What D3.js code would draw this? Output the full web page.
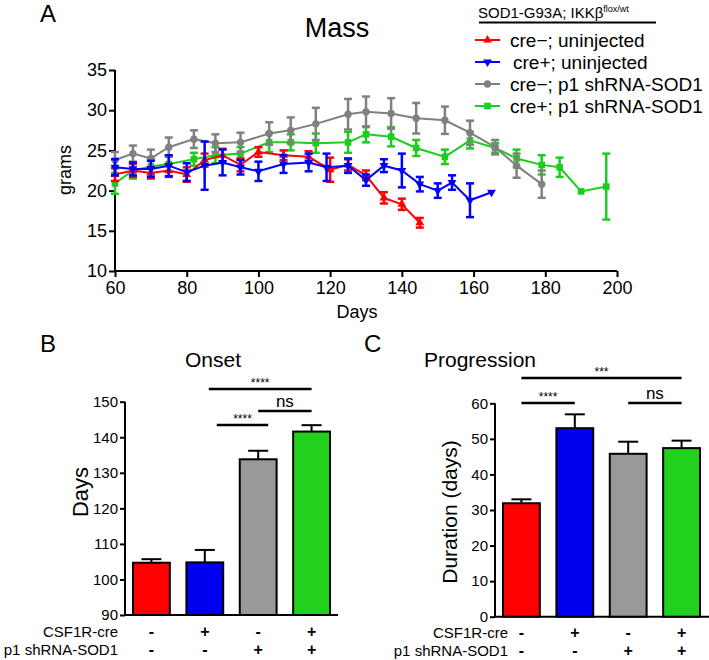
<!DOCTYPE html>
<html>
<head>
<meta charset="utf-8">
<script src="https://cdn.jsdelivr.net/npm/d3@7"></script>
<style>
  body { margin: 0; background: #fff; }
  svg { font-family: Arial, "Liberation Sans", sans-serif; }
</style>
</head>
<body>
<div id="chart"></div>
<script>
// ---- Panel A: body mass over time (mean +/- SEM)
const redDays  = [60,65,70,75,80,85,90,95,100,107,114,120,125,130,135,140,145];
const redMass  = [22.0,22.5,22.2,22.5,22.0,23.8,24.4,23.2,24.8,24.4,24.2,22.6,23.2,21.9,19.1,18.3,16.0];
const redErr   = [0.8,0.8,0.7,0.8,0.9,0.8,0.8,0.8,0.6,0.6,0.7,1.5,0.7,0.6,0.7,0.7,0.6];

const blueDays = [60,65,70,75,80,85,90,95,100,107,114,119,125,130,135,140,145,150,154,159,165];
const blueMass = [22.9,22.7,22.7,23.1,22.3,23.1,23.5,22.9,22.4,23.3,23.5,22.9,23.1,21.3,23.1,22.5,20.8,20.0,21.0,18.8,19.8];
const blueErr  = [1.0,0.8,1.0,1.3,1.1,3.0,1.6,0.9,1.2,1.1,1.1,1.7,0.9,0.7,0.8,2.1,0.9,0.9,0.9,2.1,0];

const grayDays = [60,65,70,75,82,88,95,103,109,116,125,130,137,144,152,159,166,172,179];
const grayMass = [23.8,24.6,24.0,25.4,26.4,25.9,26.0,27.1,27.5,28.3,29.5,29.8,29.6,29.0,28.75,27.2,25.4,23.1,20.8];
const grayErr  = [1.0,1.0,1.1,1.2,1.1,1.1,1.2,1.4,1.6,2.0,1.9,1.9,1.9,1.9,1.7,1.5,0.9,1.5,1.7];

const greenDays = [60,65,70,75,82,88,95,103,109,116,125,130,137,144,152,159,166,172,179,184,190,197];
const greenMass = [20.9,22.5,23.0,23.3,23.9,24.4,24.6,26.0,26.0,25.9,26.0,27.0,26.7,25.3,24.2,26.25,25.3,24.0,23.2,22.9,19.9,20.5];
const greenErr  = [1.3,1.0,1.0,1.0,0.8,1.0,0.8,1.2,1.0,1.2,1.3,1.0,1.2,1.0,0.9,1.0,0.6,1.1,1.2,1.2,0,4.1];

const seriesNames = ["cre\u2212; uninjected", "cre+; uninjected", "cre\u2212; p1 shRNA-SOD1", "cre+; p1 shRNA-SOD1"];
const dayTicks = [60, 80, 100, 120, 140, 160, 180, 200];
const massTicks = [10, 15, 20, 25, 30, 35];

// ---- Panels B and C: bars
const groupIdx = [0, 1, 2, 3];
const onsetMean = [104.7, 104.8, 133.8, 141.6];
const onsetSem  = [1.0, 3.5, 2.4, 1.8];
const onsetTicks = [90, 100, 110, 120, 130, 140, 150];
const durationMean = [31.9, 53.0, 45.8, 47.4];
const durationSem  = [1.1, 3.9, 3.4, 2.1];
const durationTicks = [0, 10, 20, 30, 40, 50, 60];
const creRow = ["-", "+", "-", "+"];
const shRow  = ["-", "-", "+", "+"];

const lineColors = ["#ff0000", "#0000ff", "#808080", "#1ecc1e"];
const barColors  = ["#ff0000", "#0000f0", "#999999", "#22d01e"];
const FONT = "Arial, 'Liberation Sans', sans-serif";

const svg = d3.select("#chart").append("svg")
    .attr("width", 709)
    .attr("height", 660);

// ================= Panel A =================
const x = d3.scaleLinear().domain([60, 200]).range([115, 617]);
const y = d3.scaleLinear().domain([10, 35]).range([271, 70]);

svg.append("text").attr("x", 40).attr("y", 22).attr("font-size", 24).text("A");
svg.append("text").attr("x", 337).attr("y", 37).attr("font-size", 27)
    .attr("text-anchor", "middle").text("Mass");

const xAxisA = svg.append("g")
    .attr("transform", "translate(0,271)")
    .call(d3.axisBottom(x).tickValues(dayTicks).tickSizeOuter(0).tickSize(6).tickPadding(4));
const yAxisA = svg.append("g")
    .attr("transform", "translate(115,0)")
    .call(d3.axisLeft(y).tickValues(massTicks).tickSizeOuter(0).tickSize(6).tickPadding(2));
[xAxisA, yAxisA].forEach(g => {
    g.selectAll("path, line").attr("stroke", "#000").attr("stroke-width", 2);
    g.selectAll("text").attr("font-size", 18).attr("fill", "#000").attr("font-family", FONT);
});
xAxisA.select(".domain").attr("d", "M" + x.range()[0] + ",0H" + x.range()[1]);
yAxisA.select(".domain").attr("d", "M0," + y.range()[0] + "V" + y.range()[1]);

svg.append("text").attr("x", 357).attr("y", 318).attr("font-size", 18)
    .attr("text-anchor", "middle").text("Days");
svg.append("text").attr("font-size", 18).attr("text-anchor", "middle")
    .attr("transform", "translate(71,170) rotate(-90)").text("grams");

function zipSeries(days, mass, err) {
    return days.map((d, i) => ({ day: d, mass: mass[i], err: err[i] }));
}
const series = [
    { data: zipSeries(greenDays, greenMass, greenErr), color: lineColors[3], shape: d3.symbolSquare, size: 44 },
    { data: zipSeries(grayDays, grayMass, grayErr), color: lineColors[2], shape: d3.symbolCircle, size: 42 },
    { data: zipSeries(redDays, redMass, redErr), color: lineColors[0], shape: d3.symbolTriangle, size: 34, rot: 0 },
    { data: zipSeries(blueDays, blueMass, blueErr), color: lineColors[1], shape: d3.symbolTriangle, size: 34, rot: 180 }
];

const line = d3.line().x(d => x(d.day)).y(d => y(d.mass));

series.forEach(s => {
    const g = svg.append("g");
    g.append("path").datum(s.data).attr("d", line)
        .attr("fill", "none").attr("stroke", s.color).attr("stroke-width", 2);
    const eb = g.selectAll(".eb").data(s.data.filter(d => d.err > 0)).enter().append("g");
    eb.append("line")
        .attr("x1", d => x(d.day)).attr("x2", d => x(d.day))
        .attr("y1", d => y(d.mass - d.err)).attr("y2", d => y(d.mass + d.err))
        .attr("stroke", s.color).attr("stroke-width", 2.5);
    [-1, 1].forEach(sg => {
        eb.append("line")
            .attr("x1", d => x(d.day) - 4).attr("x2", d => x(d.day) + 4)
            .attr("y1", d => y(d.mass + sg * d.err)).attr("y2", d => y(d.mass + sg * d.err))
            .attr("stroke", s.color).attr("stroke-width", 2.5);
    });
    g.selectAll(".pt").data(s.data).enter().append("path")
        .attr("d", d3.symbol().type(s.shape).size(s.size))
        .attr("transform", d => "translate(" + x(d.day) + "," + y(d.mass) + ") rotate(" + (s.rot || 0) + ")")
        .attr("fill", s.color);
});

// legend
const header = svg.append("text").attr("x", 478).attr("y", 18).attr("font-size", 15);
header.append("tspan").text("SOD1-G93A; IKK\u03b2");
header.append("tspan").attr("font-size", 9).attr("dy", -6).text("flox/wt");
svg.append("line").attr("x1", 479).attr("x2", 656).attr("y1", 22.5).attr("y2", 22.5)
    .attr("stroke", "#000").attr("stroke-width", 2);

const legendShapes = [
    { shape: d3.symbolTriangle, size: 34, rot: 0 },
    { shape: d3.symbolTriangle, size: 34, rot: 180 },
    { shape: d3.symbolCircle, size: 42, rot: 0 },
    { shape: d3.symbolSquare, size: 44, rot: 0 }
];
const legendY = d3.scalePoint().domain(groupIdx).range([40, 106]);
const leg = svg.selectAll(".leg").data(groupIdx).enter().append("g")
    .attr("transform", i => "translate(0," + legendY(i) + ")");
leg.append("line").attr("x1", 475).attr("x2", 500).attr("y1", 0).attr("y2", 0)
    .attr("stroke", i => lineColors[i]).attr("stroke-width", 2);
leg.append("path")
    .attr("d", i => d3.symbol().type(legendShapes[i].shape).size(legendShapes[i].size)())
    .attr("transform", i => "translate(487.5,0) rotate(" + legendShapes[i].rot + ")")
    .attr("fill", i => lineColors[i]);
leg.append("text").attr("x", i => i === 1 ? 513 : 510).attr("y", 7).attr("font-size", 19)
    .text(i => seriesNames[i]);

// ================= Panels B & C =================
function barPanel(opts) {
    const xb = d3.scaleBand().domain(groupIdx).range(opts.xRange).paddingInner(0.31).paddingOuter(0.15);
    const yb = d3.scaleLinear().domain(opts.domain).range(opts.yRange);
    const cx = i => xb(i) + xb.bandwidth() / 2;

    svg.append("text").attr("x", opts.letterX).attr("y", 352).attr("font-size", 24).text(opts.letter);
    svg.append("text").attr("x", opts.titleX).attr("y", 367).attr("font-size", 21)
        .attr("text-anchor", "middle").text(opts.title);

    const ya = svg.append("g").attr("transform", "translate(" + opts.xRange[0] + ",0)")
        .call(d3.axisLeft(yb).tickValues(opts.ticks).tickSizeOuter(0).tickSize(5).tickPadding(2));
    ya.selectAll("path, line").attr("stroke", "#000").attr("stroke-width", 2);
    ya.selectAll("text").attr("font-size", 15).attr("fill", "#000").attr("font-family", FONT);
    ya.select(".domain").attr("d", "M0," + opts.yRange[0] + "V" + opts.yRange[1]);

    const xa = svg.append("g").attr("transform", "translate(0," + opts.yRange[0] + ")")
        .call(d3.axisBottom(xb).tickSize(0).tickSizeOuter(0).tickFormat(""));
    xa.select(".domain").attr("stroke", "#000").attr("stroke-width", 2)
        .attr("d", "M" + opts.xRange[0] + ",0H" + opts.xEnd);

    svg.append("text").attr("font-size", opts.yLabelSize).attr("text-anchor", "middle")
        .attr("transform", "translate(" + opts.yLabelX + "," + opts.yLabelY + ") rotate(-90)")
        .text(opts.yLabel);

    // error bars (upper only)
    const eb = svg.selectAll(".eb" + opts.letter).data(groupIdx).enter().append("g");
    eb.append("line")
        .attr("x1", cx).attr("x2", cx)
        .attr("y1", i => yb(opts.mean[i])).attr("y2", i => yb(opts.mean[i] + opts.sem[i]))
        .attr("stroke", "#000").attr("stroke-width", 2);
    eb.append("line")
        .attr("x1", i => cx(i) - 10).attr("x2", i => cx(i) + 10)
        .attr("y1", i => yb(opts.mean[i] + opts.sem[i])).attr("y2", i => yb(opts.mean[i] + opts.sem[i]))
        .attr("stroke", "#000").attr("stroke-width", 2);

    svg.selectAll(".bar" + opts.letter).data(groupIdx).enter().append("rect")
        .attr("x", i => xb(i)).attr("width", xb.bandwidth())
        .attr("y", i => yb(opts.mean[i])).attr("height", i => yb(opts.domain[0]) - yb(opts.mean[i]))
        .attr("fill", i => barColors[i]).attr("stroke", "#000").attr("stroke-width", 2);

    // significance brackets
    opts.sig.forEach(s => {
        const x1 = cx(s.from) + (s.dx1 || 0), x2 = cx(s.to) + (s.dx2 || 0);
        svg.append("line").attr("x1", x1).attr("x2", x2).attr("y1", s.y).attr("y2", s.y)
            .attr("stroke", "#000").attr("stroke-width", 2.5);
        svg.append("text").attr("x", (x1 + x2) / 2).attr("y", s.label === "ns" ? s.y - 4 : s.y - 2)
            .attr("text-anchor", "middle").attr("font-size", s.label === "ns" ? 17 : 12)
            .text(s.label);
    });

    // genotype rows
    svg.append("text").attr("x", opts.rowLabelX).attr("y", opts.row1Y).attr("font-size", 15)
        .attr("text-anchor", "end").text("CSF1R-cre");
    svg.append("text").attr("x", opts.rowLabelX).attr("y", opts.row2Y).attr("font-size", 15)
        .attr("text-anchor", "end").text("p1 shRNA-SOD1");
    [[creRow, opts.row1Y], [shRow, opts.row2Y]].forEach(([row, ry]) => {
        svg.selectAll(null).data(groupIdx).enter().append("text")
            .attr("x", cx).attr("y", ry)
            .attr("text-anchor", "middle").attr("font-size", 16).attr("font-weight", "bold")
            .text(i => row[i]);
    });
}

barPanel({
    letter: "B", letterX: 40, title: "Onset", titleX: 213,
    xRange: [125, 338], xEnd: 338, yRange: [615, 401.7], domain: [90, 150], ticks: onsetTicks,
    mean: onsetMean, sem: onsetSem,
    yLabel: "Days", yLabelX: 88, yLabelY: 492, yLabelSize: 22,
    sig: [
        { from: 1, to: 3, dx1: 4, y: 389, label: "****" },
        { from: 1, to: 2, dx1: 12, dx2: 10, y: 425, label: "****" },
        { from: 2, to: 3, y: 411, label: "ns" }
    ],
    rowLabelX: 118, row1Y: 637, row2Y: 655
});

barPanel({
    letter: "C", letterX: 364, title: "Progression", titleX: 480,
    xRange: [495, 708], xEnd: 709, yRange: [616.7, 403.3], domain: [0, 60], ticks: durationTicks,
    mean: durationMean, sem: durationSem,
    yLabel: "Duration (days)", yLabelX: 457, yLabelY: 512, yLabelSize: 21,
    sig: [
        { from: 0, to: 3, y: 378, label: "***" },
        { from: 0, to: 1, y: 403, label: "****" },
        { from: 2, to: 3, y: 403, label: "ns" }
    ],
    rowLabelX: 508, row1Y: 638, row2Y: 656
});
</script>
</body>
</html>
